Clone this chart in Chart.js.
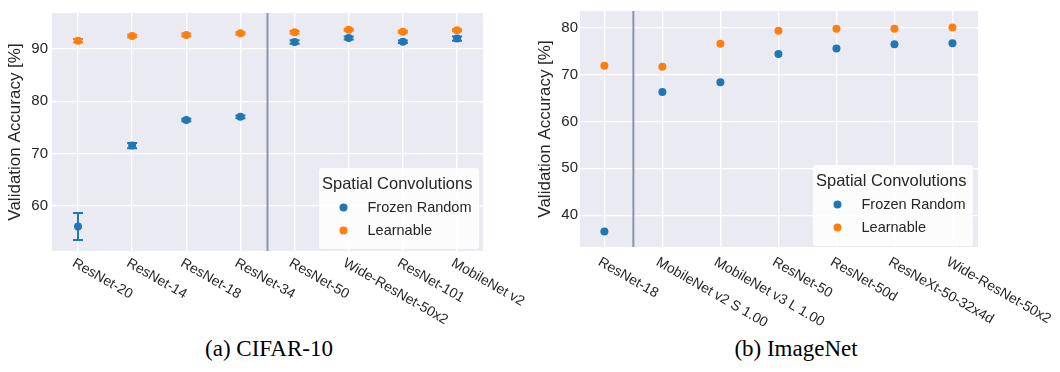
<!DOCTYPE html>
<html>
<head>
<meta charset="utf-8">
<script src="https://cdn.jsdelivr.net/npm/chart.js@4.4.1/dist/chart.umd.min.js"></script>
<style>
body { margin: 0; background: #fff; }
#wrap { position: relative; width: 1060px; height: 372px; }
canvas { position: absolute; top: 0; }
.cap { position: absolute; top: 336px; font-family: "Liberation Serif", serif; font-size: 23px; color: #000; transform: translateX(-50%); white-space: nowrap; }
</style>
</head>
<body>
<div id="wrap">
  <canvas id="cifar" width="530" height="330" style="left:0"></canvas>
  <canvas id="imagenet" width="530" height="330" style="left:530px"></canvas>
  <div class="cap" style="left:269px">(a) CIFAR-10</div>
  <div class="cap" style="left:796px">(b) ImageNet</div>
</div>
<script>
// values
const cifarLabels = ["ResNet-20", "ResNet-14", "ResNet-18", "ResNet-34", "ResNet-50", "Wide-ResNet-50x2", "ResNet-101", "MobileNet v2"];
const cifarFrozen = [56.0, 71.5, 76.4, 77.0, 91.35, 92.1, 91.4, 92.0];
const cifarFrozenErr = [2.6, 0.5, 0.25, 0.25, 0.35, 0.3, 0.25, 0.4];
const cifarLearn = [91.6, 92.5, 92.7, 93.0, 93.2, 93.7, 93.3, 93.6];
const cifarLearnErr = [0.3, 0.25, 0.25, 0.2, 0.25, 0.2, 0.2, 0.2];
const cifarYTicks = [60, 70, 80, 90];

const imagenetLabels = ["ResNet-18", "MobileNet v2 S 1.00", "MobileNet v3 L 1.00", "ResNet-50", "ResNet-50d", "ResNeXt-50-32x4d", "Wide-ResNet-50x2"];
const imagenetFrozen = [36.5, 66.3, 68.4, 74.4, 75.6, 76.5, 76.7];
const imagenetLearn = [71.9, 71.7, 76.6, 79.4, 79.8, 79.8, 80.1];
const imagenetYTicks = [40, 50, 60, 70, 80];

const seriesNames = ["Frozen Random", "Learnable"];
const legendTitle = "Spatial Convolutions";
const yTitle = "Validation Accuracy [%]";

const BLUE = "#1f77b4";
const ORANGE = "#ff7f0e";
const TXT = "#262626";
const FONT = "'Liberation Sans', Arial, sans-serif";

const toPoints = (vals) => vals.map((v, i) => ({ x: i, y: v }));

// error bars, separator line, rotated labels and legend
const extras = {
    id: "extras",
    beforeDatasetsDraw(chart, args, opts) {
        const ctx = chart.ctx;
        const xs = chart.scales.x, ys = chart.scales.y;
        const area = chart.chartArea;
        // separator
        const sx = xs.getPixelForValue(opts.sep);
        ctx.save();
        ctx.strokeStyle = "#8b94ad";
        ctx.lineWidth = 2;
        ctx.beginPath();
        ctx.moveTo(sx, area.top);
        ctx.lineTo(sx, area.bottom);
        ctx.stroke();
        // error bars
        (opts.errors || []).forEach((err, di) => {
            if (!err) return;
            const vals = chart.data.datasets[di].data;
            ctx.strokeStyle = chart.data.datasets[di].backgroundColor;
            ctx.lineWidth = 2;
            vals.forEach((p, i) => {
                const px = xs.getPixelForValue(p.x);
                const y1 = ys.getPixelForValue(p.y - err[i]);
                const y2 = ys.getPixelForValue(p.y + err[i]);
                ctx.beginPath();
                ctx.moveTo(px, y1); ctx.lineTo(px, y2);
                ctx.moveTo(px - 5, y1); ctx.lineTo(px + 5, y1);
                ctx.moveTo(px - 5, y2); ctx.lineTo(px + 5, y2);
                ctx.stroke();
            });
        });
        ctx.restore();
    },
    afterDraw(chart, args, opts) {
        const ctx = chart.ctx;
        const xs = chart.scales.x;
        const area = chart.chartArea;
        ctx.save();
        // x tick labels, rotated down to the right
        ctx.fillStyle = TXT;
        ctx.font = "14px " + FONT;
        ctx.textAlign = "left";
        ctx.textBaseline = "top";
        opts.labels.forEach((lab, i) => {
            ctx.save();
            ctx.translate(xs.getPixelForValue(i) - opts.ldx, area.bottom + opts.ldy);
            ctx.rotate(Math.PI / 6);
            ctx.fillText(lab, 0, 0);
            ctx.restore();
        });
        // legend box at lower right
        const w = 160, h = 81;
        const bx = area.right - opts.lr - w, by = area.bottom - opts.lb - h;
        ctx.fillStyle = "rgba(255,255,255,0.85)";
        ctx.beginPath();
        ctx.roundRect(bx, by, w, h, 3);
        ctx.fill();
        ctx.fillStyle = TXT;
        ctx.textBaseline = "middle";
        ctx.font = "16.5px " + FONT;
        ctx.fillText(legendTitle, bx + 3, by + 16.5);
        ctx.font = "14.5px " + FONT;
        [BLUE, ORANGE].forEach((c, k) => {
            const yy = by + 39.5 + k * 23;
            ctx.fillStyle = c;
            ctx.beginPath();
            ctx.arc(bx + 24.5, yy, 4, 0, Math.PI * 2);
            ctx.fill();
            ctx.fillStyle = TXT;
            ctx.fillText(seriesNames[k], bx + 48.5, yy);
        });
        ctx.restore();
    }
};

const makeChart = (id, cfg) => {
    const n = cfg.labels.length;
    return new Chart(document.getElementById(id), {
        type: "scatter",
        data: {
            datasets: [
                { label: seriesNames[0], data: toPoints(cfg.frozen), backgroundColor: BLUE, borderColor: BLUE, pointRadius: 4, borderWidth: 0 },
                { label: seriesNames[1], data: toPoints(cfg.learn), backgroundColor: ORANGE, borderColor: ORANGE, pointRadius: 4, borderWidth: 0 },
            ],
        },
        options: {
            responsive: false,
            animation: false,
            layout: { padding: { left: 0, right: cfg.padRight, top: 5, bottom: 0 } },
            plugins: {
                legend: { display: false },
                tooltip: { enabled: false },
                extras: { sep: cfg.sep, errors: cfg.errors, labels: cfg.labels, ldx: cfg.ldx, ldy: cfg.ldy, lr: cfg.lr, lb: cfg.lb },
            },
            scales: {
                x: {
                    type: "linear",
                    min: -cfg.xpad,
                    max: n - 1 + cfg.xpadR,
                    afterBuildTicks: (s) => { s.ticks = cfg.labels.map((_, i) => ({ value: i })); },
                    afterFit: (s) => { s.height = cfg.xHeight; },
                    ticks: { display: false },
                    grid: { color: "#ffffff", lineWidth: 1.3, drawTicks: false },
                    border: { display: false },
                },
                y: {
                    min: cfg.ymin,
                    max: cfg.ymax,
                    afterBuildTicks: (s) => { s.ticks = cfg.yticks.map((v) => ({ value: v })); },
                    afterFit: (s) => { s.width = cfg.yWidth; },
                    ticks: { color: TXT, font: { family: FONT, size: 15 }, padding: cfg.tickPad },
                    grid: { color: "#ffffff", lineWidth: 1.3, drawTicks: false },
                    border: { display: false },
                    title: { display: true, text: yTitle, color: TXT, font: { family: FONT, size: 17 }, padding: { top: 5, bottom: 0 } },
                },
            },
        },
        plugins: [
            {
                id: "bg",
                beforeDraw(chart) {
                    const a = chart.chartArea;
                    chart.ctx.save();
                    chart.ctx.fillStyle = "#eaeaf2";
                    chart.ctx.fillRect(a.left, a.top, a.right - a.left, a.bottom - a.top);
                    chart.ctx.restore();
                },
            },
            extras,
        ],
    });
};

makeChart("cifar", {
    labels: cifarLabels, frozen: cifarFrozen, learn: cifarLearn,
    errors: [cifarFrozenErr, cifarLearnErr],
    yticks: cifarYTicks, ymin: 51.3, ymax: 96.9,
    sep: 3.5, xpad: 0.48, xpadR: 0.48,
    padRight: 47, yWidth: 52, xHeight: 79, tickPad: 4,
    ldx: 1, ldy: 5, lr: 4, lb: 2,
});

makeChart("imagenet", {
    labels: imagenetLabels, frozen: imagenetFrozen, learn: imagenetLearn,
    errors: null,
    yticks: imagenetYTicks, ymin: 33.2, ymax: 83.6,
    sep: 0.5, xpad: 0.42, xpadR: 0.44,
    padRight: 82, yWidth: 50, xHeight: 83, tickPad: 2,
    ldx: 1.6, ldy: 8, lr: 5, lb: 1,
});
</script>
</body>
</html>
